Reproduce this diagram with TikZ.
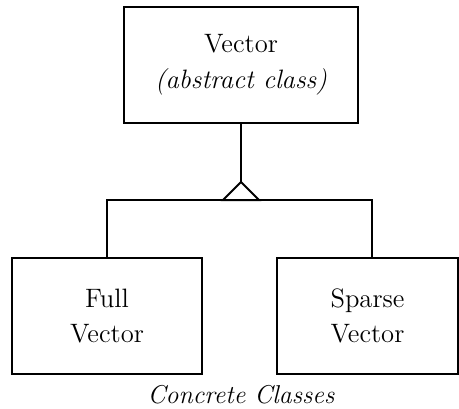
\documentclass[tikz,border=0pt]{standalone}
\usetikzlibrary{positioning}
\begin{document}
\begin{tikzpicture}[x=0.5pt,y=-0.5pt,
  every path/.style={line width=1pt, line join=miter},
  classbox/.style={draw, inner sep=0pt, minimum height=58pt, align=center,
    font=\fontsize{13.3}{17.8}\selectfont},
  caption/.style={inner sep=0pt, font=\itshape\fontsize{12.9}{17}\selectfont}]

% GLOBAL SETTINGS
\useasboundingbox (0,0) rectangle (459,408);

% CLASSES
\node[classbox, minimum width=117pt] (V) at (241,65) {Vector\\\textit{(abstract class)}};
\node[classbox, minimum width=95pt] (F) at (107,316) {Full\\Vector};
\node[classbox, minimum width=90.5pt] (S) at (367.5,316) {Sparse\\Vector};
\node[caption] (C) at (241,395) {Concrete Classes};

% helper coordinates
\coordinate (tip) at (241,182);
\coordinate (bL) at (107,200);
\coordinate (bR) at (372,200);

% EDGES
\draw (V) -- (tip);
\draw (tip) -- ++(-18,18) -- ++(36,0) -- cycle;
\draw (F.north) -- (bL) -- (bR) -- (S.north -| bR);

\end{tikzpicture}
\end{document}
